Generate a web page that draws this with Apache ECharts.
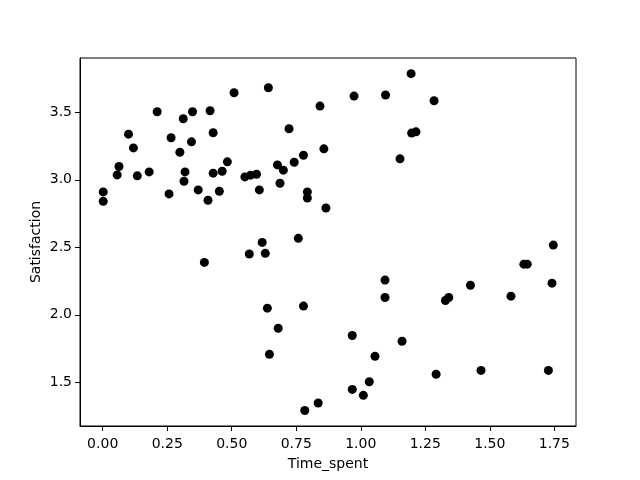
<!DOCTYPE html>
<html>
<head>
<meta charset="utf-8">
<script src="https://cdn.jsdelivr.net/npm/echarts@6/dist/echarts.min.js"></script>
<style>
  html, body { margin: 0; padding: 0; background: #fff; }
  #main { width: 640px; height: 480px; }
</style>
</head>
<body>
<div id="main"></div>
<script>
// time spent vs satisfaction
var timeSpent = [
  0.509, 0.211, 0.312, 0.348, 0.416, 0.100, 0.265, 0.344, 0.428, 0.119,
  0.299, 0.483, 0.063, 0.056, 0.134, 0.180, 0.319, 0.315, 0.428, 0.463,
  0.551, 0.002, 0.002, 0.257, 0.370, 0.408, 0.452, 0.642, 0.842, 0.974,
  1.096, 0.722, 0.857, 0.778, 0.742, 0.677, 0.700, 0.573, 0.596, 0.687,
  0.607, 0.793, 0.793, 0.865, 1.195, 1.284, 1.197, 1.214, 1.152, 0.618,
  0.568, 0.630, 0.758, 1.094, 1.094, 0.638, 0.778, 0.680, 0.967, 0.646,
  1.055, 1.033, 0.967, 1.010, 0.835, 0.783, 1.746, 1.632, 1.645, 1.425,
  1.328, 1.341, 1.582, 1.741, 1.160, 1.292, 1.466, 1.727, 0.394
];
var satisfaction = [
  3.645, 3.504, 3.452, 3.504, 3.511, 3.338, 3.311, 3.281, 3.348, 3.236,
  3.204, 3.133, 3.098, 3.036, 3.029, 3.058, 3.058, 2.989, 3.049, 3.063,
  3.021, 2.910, 2.840, 2.895, 2.925, 2.848, 2.915, 3.682, 3.546, 3.620,
  3.628, 3.378, 3.229, 3.182, 3.130, 3.110, 3.071, 3.034, 3.041, 2.974,
  2.925, 2.910, 2.865, 2.791, 3.786, 3.585, 3.346, 3.355, 3.155, 2.536,
  2.450, 2.455, 2.566, 2.257, 2.128, 2.049, 2.064, 1.900, 1.846, 1.707,
  1.692, 1.504, 1.447, 1.403, 1.346, 1.291, 2.516, 2.375, 2.375, 2.219,
  2.106, 2.128, 2.138, 2.234, 1.804, 1.559, 1.588, 1.588, 2.388
];
var xTicks = [0, 0.25, 0.5, 0.75, 1.0, 1.25, 1.5, 1.75];
var yTicks = [1.5, 2.0, 2.5, 3.0, 3.5];

var points = timeSpent.map(function (t, i) { return [t, satisfaction[i]]; });

var font = 'DejaVu Sans';
var chart = echarts.init(document.getElementById('main'));
var option = {
    backgroundColor: '#fff',
    animation: false,
    grid: {
        left: 80, right: 64, top: 58, bottom: 54,
        show: true, borderColor: '#000', borderWidth: 1, backgroundColor: 'transparent'
    },
    xAxis: {
        type: 'value',
        min: -0.088, max: 1.834,
        name: 'Time_spent',
        nameLocation: 'middle',
        nameGap: 31,
        nameMoveOverlap: false,
        nameTextStyle: { color: '#000', fontFamily: font, fontSize: 14 },
        splitLine: { show: false },
        axisLine: { show: true, onZero: false, lineStyle: { color: '#000', width: 1 } },
        axisTick: { show: true, length: 5, customValues: xTicks, lineStyle: { color: '#000' } },
        axisLabel: {
            customValues: xTicks, margin: 11,
            color: '#000', fontFamily: font, fontSize: 14,
            formatter: function (v) { return v.toFixed(2); }
        }
    },
    yAxis: {
        type: 'value',
        min: 1.176, max: 3.902,
        name: 'Satisfaction',
        nameLocation: 'middle',
        nameGap: 37,
        nameMoveOverlap: false,
        nameTextStyle: { color: '#000', fontFamily: font, fontSize: 14 },
        splitLine: { show: false },
        axisLine: { show: true, onZero: false, lineStyle: { color: '#000', width: 1 } },
        axisTick: { show: true, length: 5, customValues: yTicks, lineStyle: { color: '#000' } },
        axisLabel: {
            customValues: yTicks, margin: 8,
            color: '#000', fontFamily: font, fontSize: 14,
            formatter: function (v) { return v.toFixed(1); }
        }
    },
    series: [{
        type: 'scatter',
        data: points,
        symbol: 'circle',
        symbolSize: 9,
        itemStyle: { color: '#000', opacity: 1 }
    }]
};
chart.setOption(option);
</script>
</body>
</html>
